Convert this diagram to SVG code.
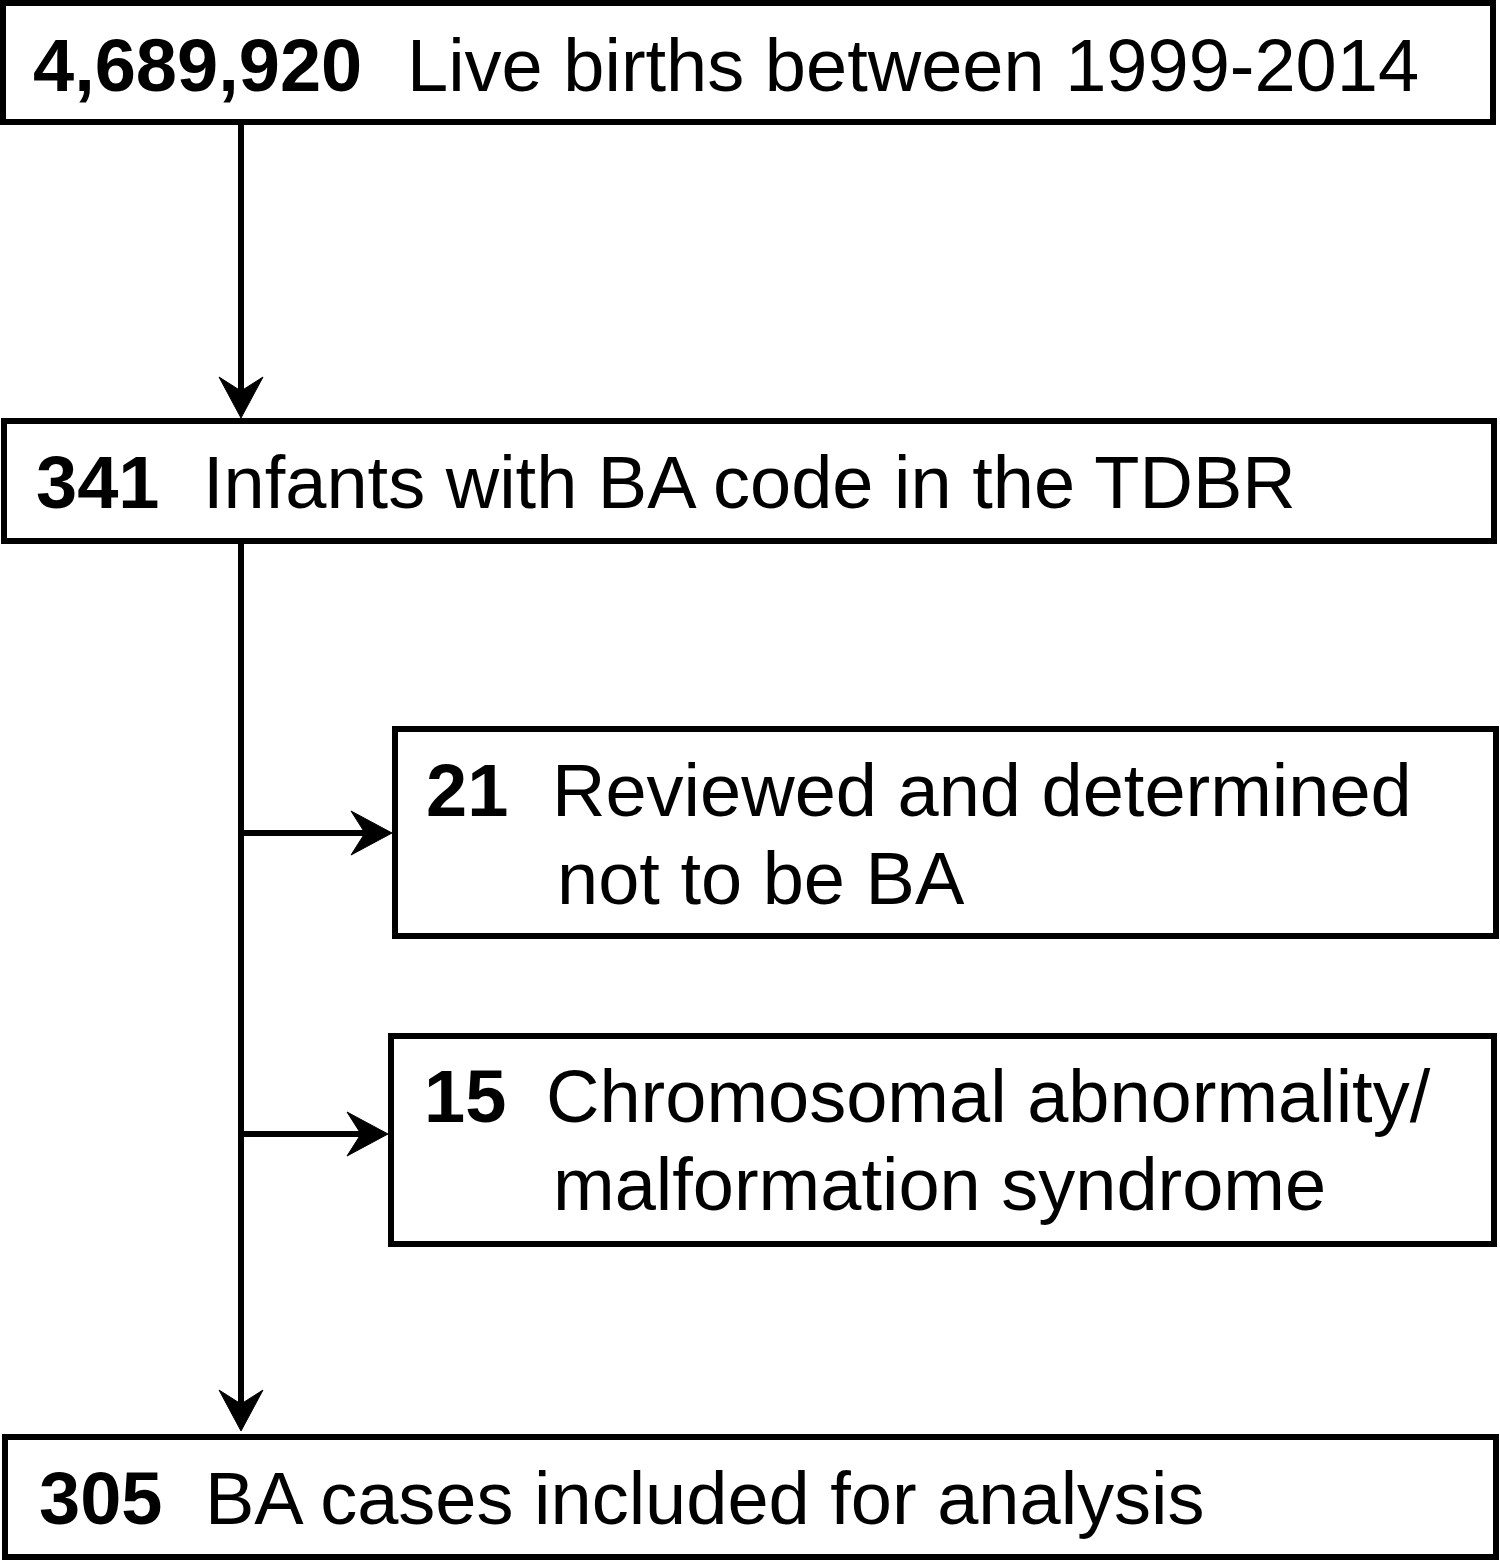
<svg xmlns="http://www.w3.org/2000/svg" width="1500" height="1561" viewBox="0 0 1500 1561">
<style>
.box{fill:#fff;stroke:#000;stroke-width:6}
.t{font-family:"Liberation Sans",Arial,sans-serif;font-size:74px;fill:#000}
.b{font-weight:bold}
.ln{stroke:#000;stroke-width:6;fill:none}
.ah{fill:#000;stroke:#000;stroke-width:1;stroke-linejoin:miter}
</style>
<rect width="1500" height="1561" fill="#fff"/>
<g id="connectors">
<line class="ln" x1="241" y1="122" x2="241" y2="400"/>
<path class="ah" d="M241,418 L219,377 L241,391 L263,377 Z"/>
<line class="ln" x1="241" y1="541" x2="241" y2="1413"/>
<path class="ah" d="M241,1431 L219,1390 L241,1404 L263,1390 Z"/>
<line class="ln" x1="241" y1="833" x2="375" y2="833"/>
<path class="ah" d="M392,833 L351,811 L365,833 L351,855 Z"/>
<line class="ln" x1="241" y1="1134" x2="371" y2="1134"/>
<path class="ah" d="M388,1134 L347,1112 L361,1134 L347,1156 Z"/>
</g>
<g id="n1">
<rect class="box" x="3" y="3" width="1490" height="119"/>
<text class="t b" x="33" y="91">4,689,920</text>
<text class="t" x="407" y="91">Live births between 1999-2014</text>
</g>
<g id="n2">
<rect class="box" x="4" y="421" width="1490" height="120"/>
<text class="t b" x="36" y="508">341</text>
<text class="t" x="203" y="508">Infants with BA code in the TDBR</text>
</g>
<g id="n3">
<rect class="box" x="395" y="729" width="1101" height="207"/>
<text class="t b" x="426" y="816">21</text>
<text class="t" x="552" y="816">Reviewed and determined</text>
<text class="t" x="557" y="904">not to be BA</text>
</g>
<g id="n4">
<rect class="box" x="391" y="1036" width="1103" height="208"/>
<text class="t b" x="424" y="1122">15</text>
<text class="t" x="546" y="1122">Chromosomal abnormality/</text>
<text class="t" x="553" y="1210">malformation syndrome</text>
</g>
<g id="n5">
<rect class="box" x="5" y="1437" width="1491" height="120"/>
<text class="t b" x="39" y="1524">305</text>
<text class="t" x="205" y="1524">BA cases included for analysis</text>
</g>
</svg>
